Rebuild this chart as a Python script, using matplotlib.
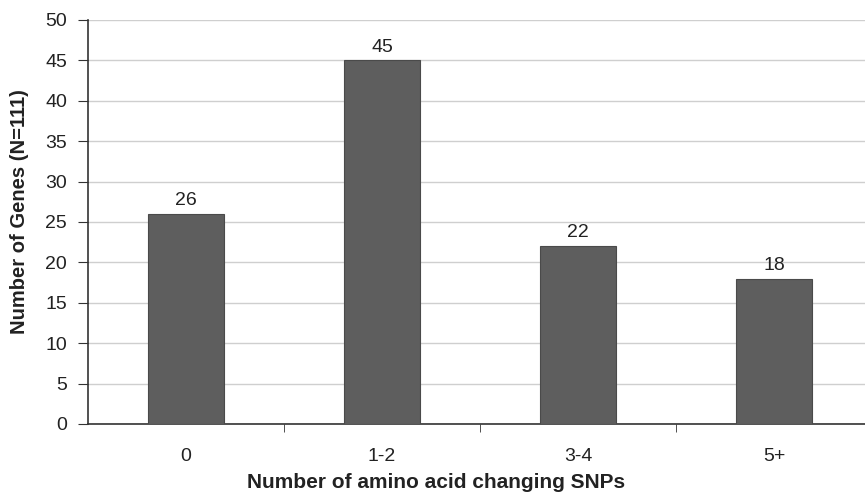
import matplotlib
matplotlib.use("Agg")
import matplotlib.pyplot as plt
import numpy as np

# data
categories = ["0", "1-2", "3-4", "5+"]
genes = [26, 45, 22, 18]

plt.rcParams['font.family'] = ['Liberation Sans', 'DejaVu Sans']

fig = plt.figure(figsize=(8.65, 5.0), dpi=100)
ax = fig.add_axes([88 / 865, 1 - 424 / 500, 784 / 865, 404 / 500])

x = np.arange(len(categories))
ax.bar(x, genes, width=0.39, color="#5e5e5e", edgecolor="#4a4a4a", linewidth=0.8, zorder=3)
for xi, v in zip(x, genes):
    ax.text(xi, v + 0.6, str(v), ha="center", va="bottom", fontsize=14, color="#222222")

ax.set_xlim(-0.5, len(categories) - 0.5)
ax.set_ylim(0, 50)
ax.set_yticks(range(0, 51, 5))
ax.set_xticks(x)
ax.set_xticklabels(categories)
ax.set_xticks(np.arange(0.5, len(categories) - 0.5, 1), minor=True)
ax.tick_params(axis="x", which="major", length=0, pad=17, labelsize=14, labelcolor="#222222")
ax.tick_params(axis="x", which="minor", length=6, color="#333333")
ax.tick_params(axis="y", length=7, color="#333333", labelsize=14, pad=8, labelcolor="#222222")

ax.grid(axis="y", color="#cfcfcf", linewidth=1, zorder=0)
for s in ["top", "right"]:
    ax.spines[s].set_visible(False)
ax.spines["left"].set_color("#333333")
ax.spines["bottom"].set_color("#333333")
ax.spines["left"].set_linewidth(1.2)
ax.spines["bottom"].set_linewidth(1.2)

ax.set_ylabel("Number of Genes (N=111)", fontsize=14.5, fontweight="bold", color="#222222")
ax.yaxis.set_label_coords((29 - 88) / 784, (424 - 212) / 404)
ax.set_xlabel("Number of amino acid changing SNPs", fontsize=15, fontweight="bold", color="#222222")
ax.xaxis.set_label_coords((436 - 88) / 784, -(483 - 424) / 404, transform=ax.transAxes)
ax.xaxis.label.set_va("center")

fig.savefig("out.png", dpi=100)
